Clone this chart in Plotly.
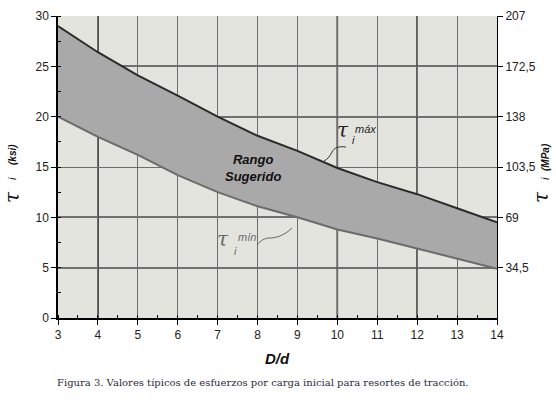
import plotly.graph_objects as go

# ---- data ----
d_ratio = [3, 4, 5, 6, 7, 8, 9, 10, 11, 12, 13, 14]
tau_max_ksi = [29.0, 26.4, 24.1, 22.1, 20.0, 18.1, 16.6, 14.9, 13.5, 12.3, 10.9, 9.5]
tau_min_ksi = [20.0, 18.0, 16.2, 14.2, 12.5, 11.1, 10.0, 8.8, 7.9, 6.9, 5.9, 4.9]
ksi_ticks = [0, 5, 10, 15, 20, 25, 30]
mpa_ticks = [34.5, 69, 103.5, 138, 172.5, 207]
mpa_labels = ["34,5", "69", "103,5", "138", "172,5", "207"]
x_ticks = list(range(3, 15))
dark_x_grid = [4, 10, 12]
dark_y_grid = [5, 10, 20, 25]
KSI_TO_MPA = 6.9

W, H = 556, 400
L, R, T, B = 58, 59, 16, 82
pw, ph = W - L - R, H - T - B


def px(xp):
    return (xp - L) / pw


def py(yp):
    return (H - B - yp) / ph


fig = go.Figure()

fig.add_trace(go.Scatter(x=d_ratio, y=tau_min_ksi, mode="lines",
                         line=dict(color="#6b6b6b", width=2), hoverinfo="skip",
                         showlegend=False))
fig.add_trace(go.Scatter(x=d_ratio, y=tau_max_ksi, mode="lines", fill="tonexty",
                         fillcolor="#a9a9a9",
                         line=dict(color="#2b2b2b", width=2), hoverinfo="skip",
                         showlegend=False))
# invisible trace on MPa axis
fig.add_trace(go.Scatter(x=d_ratio, y=[v * KSI_TO_MPA for v in tau_max_ksi],
                         yaxis="y2", mode="lines", line=dict(width=0),
                         opacity=0, hoverinfo="skip", showlegend=False))

# darker grid lines
for xv in dark_x_grid:
    fig.add_shape(type="line", xref="x", yref="paper", x0=xv, x1=xv, y0=0, y1=1,
                  line=dict(color="#000000", width=1.5), layer="below")
for yv in dark_y_grid:
    fig.add_shape(type="line", xref="paper", yref="y", x0=0, x1=1, y0=yv, y1=yv,
                  line=dict(color="#000000", width=1.5), layer="below")

# leader squiggles
fig.add_shape(type="path", xref="paper", yref="paper",
              path=f"M {px(346)},{py(147)} C {px(338)},{py(146)} {px(334)},{py(148)} {px(332)},{py(152)} "
                   f"S {px(328)},{py(159)} {px(324)},{py(161)}",
              line=dict(color="#333333", width=1))
fig.add_shape(type="path", xref="paper", yref="paper",
              path=f"M {px(257)},{py(245)} C {px(261)},{py(240)} {px(265)},{py(238)} {px(270)},{py(238)} "
                   f"S {px(284)},{py(236)} {px(292)},{py(228)}",
              line=dict(color="#666666", width=1))

serif = "DejaVu Serif"
sans = "Liberation Sans"

ann = [
    dict(x=px(253), y=py(168), text="<b><i>Rango<br>Sugerido</i></b>",
         font=dict(family=sans, size=13, color="#111111")),
    # tau max label
    dict(x=px(343), y=py(130), text="<i>τ</i>", font=dict(family=serif, size=20, color="#222222")),
    dict(x=px(353), y=py(140), text="<i>i</i>", font=dict(family=sans, size=11, color="#222222")),
    dict(x=px(365), y=py(129), text="<i>máx</i>", font=dict(family=sans, size=11, color="#222222")),
    # tau min label
    dict(x=px(223), y=py(239), text="<i>τ</i>", font=dict(family=serif, size=20, color="#6b6b6b")),
    dict(x=px(235), y=py(251), text="<i>i</i>", font=dict(family=sans, size=11, color="#6b6b6b")),
    dict(x=px(247), y=py(237), text="<i>mín</i>", font=dict(family=sans, size=11, color="#6b6b6b")),
    # left axis title
    dict(x=px(12), y=py(197), textangle=-90, text="<i>τ</i>",
         font=dict(family=serif, size=20, color="#111111")),
    dict(x=px(12), y=py(179), textangle=-90, text="<i>i</i>",
         font=dict(family=sans, size=11, color="#111111")),
    dict(x=px(12), y=py(155), textangle=-90, text="<b><i>(ksi)</i></b>",
         font=dict(family=sans, size=10, color="#111111")),
    # right axis title
    dict(x=px(541), y=py(197), textangle=-90, text="<i>τ</i>",
         font=dict(family=serif, size=20, color="#111111")),
    dict(x=px(545), y=py(179), textangle=-90, text="<i>i</i>",
         font=dict(family=sans, size=11, color="#111111")),
    dict(x=px(545), y=py(157), textangle=-90, text="<b><i>(MPa)</i></b>",
         font=dict(family=sans, size=10, color="#111111")),
    dict(x=px(277), y=py(358), text="<b><i>D/d</i></b>",
         font=dict(family=sans, size=15, color="#111111")),
    dict(x=px(55), y=py(382), xanchor="left",
         text="Figura 3. Valores típicos de esfuerzos por carga inicial para resortes de tracción.",
         font=dict(family="DejaVu Serif", size=10, color="#2a2a3a")),
]
for a in ann:
    a.setdefault("xref", "paper")
    a.setdefault("yref", "paper")
    a.setdefault("xanchor", "center")
    a.setdefault("yanchor", "middle")
    a.setdefault("showarrow", False)
    fig.add_annotation(**a)

tickfont = dict(family=sans, size=12, color="#222222")

fig.update_layout(
    width=W, height=H,
    margin=dict(l=L, r=R, t=T, b=B, autoexpand=False),
    paper_bgcolor="#ffffff",
    plot_bgcolor="#e4e4df",
    xaxis=dict(range=[3, 14], tickvals=x_ticks, showgrid=True, gridcolor="#6e6e6e",
               gridwidth=1, zeroline=False, showline=True, linecolor="#000000",
               linewidth=1.5, ticks="outside", ticklen=5, tickcolor="#000000",
               tickfont=tickfont,
               minor=dict(dtick=0.5, ticks="inside", ticklen=3, tickcolor="#000000",
                          showgrid=False)),
    yaxis=dict(range=[0, 30], tickvals=ksi_ticks, showgrid=True, gridcolor="#6e6e6e",
               gridwidth=1, zeroline=False, showline=True, linecolor="#000000",
               linewidth=1.5, ticks="outside", ticklen=5, tickcolor="#000000",
               tickfont=tickfont,
               minor=dict(dtick=2.5, ticks="inside", ticklen=3, tickcolor="#000000",
                          showgrid=False)),
    yaxis2=dict(range=[0, 207], overlaying="y", side="right", tickvals=mpa_ticks,
                ticktext=mpa_labels, showgrid=False, zeroline=False, showline=True,
                linecolor="#000000", linewidth=1, ticks="outside", ticklen=5,
                tickcolor="#000000", tickfont=tickfont),
)

fig.write_html("out.html", config={"displayModeBar": False},
               post_script="document.body.style.margin='0';document.body.style.overflow='hidden';")
